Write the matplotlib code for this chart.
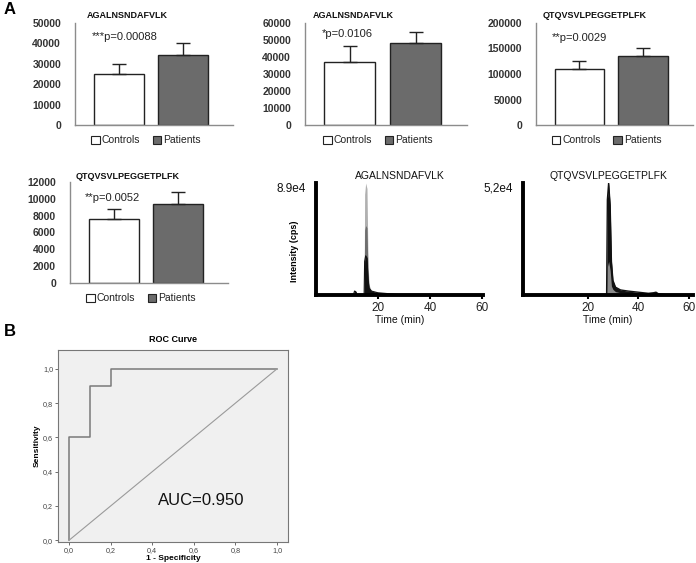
import matplotlib
matplotlib.use("Agg")
import matplotlib.pyplot as plt
from matplotlib.patches import Rectangle
import numpy as np

plt.rcParams['font.family'] = ['Liberation Sans', 'DejaVu Sans']

W, H = 696, 563

# ---------------- data ----------------
groups = ["Controls", "Patients"]
bar_titles = ["AGALNSNDAFVLK", "AGALNSNDAFVLK", "QTQVSVLPEGGETPLFK", "QTQVSVLPEGGETPLFK"]
bar_pvals = ["***p=0.00088", "*p=0.0106", "**p=0.0029", "**p=0.0052"]
bar_means = [[25000, 34500], [37000, 48000], [110000, 135000], [7600, 9400]]
bar_errs = [[5000, 5500], [9500, 7000], [15000, 16000], [1200, 1400]]
bar_ymax = [50000, 60000, 200000, 12000]
bar_ystep = [10000, 10000, 50000, 2000]

# chromatogram 1 (AGALNSNDAFVLK), intensity relative to 8.9e4
c1_title = "AGALNSNDAFVLK"
c1_max = "8.9e4"
c1_t = [0, 10.6, 11.0, 11.5, 12.0, 14.7, 14.9, 15.3, 15.8, 16.2, 16.6, 17.5, 20, 25, 30, 61]
c1_light = [0, 0, 0.035, 0.03, 0, 0, 0.9, 1.0, 0.95, 0.3, 0.09, 0.04, 0.02, 0.01, 0.0, 0]
c1_mid = [0, 0, 0.035, 0.03, 0, 0, 0.58, 0.62, 0.6, 0.2, 0.07, 0.035, 0.02, 0.01, 0.0, 0]
c1_dark = [0, 0, 0.035, 0.03, 0, 0, 0.3, 0.35, 0.33, 0.14, 0.06, 0.035, 0.02, 0.01, 0.0, 0]
# chromatogram 2 (QTQVSVLPEGGETPLFK), intensity relative to 5.2e4
c2_title = "QTQVSVLPEGGETPLFK"
c2_max = "5,2e4"
c2_t = [0, 27.5, 27.8, 28.3, 28.9, 29.4, 30, 31, 33, 36, 40, 44, 46, 47, 48, 52, 62]
c2_dark = [0, 0, 0.85, 1.0, 0.8, 0.3, 0.13, 0.07, 0.045, 0.035, 0.025, 0.015, 0.02, 0.025, 0.01, 0.0, 0]
c2_gray = [0, 0, 0.25, 0.3, 0.22, 0.08, 0.05, 0.03, 0.02, 0.015, 0.01, 0.008, 0.01, 0.012, 0.005, 0.0, 0]
time_ticks = [20, 40, 60]

# ROC
roc_fpr = [0.0, 0.0, 0.1, 0.1, 0.2, 0.2, 1.0]
roc_tpr = [0.0, 0.6, 0.6, 0.9, 0.9, 1.0, 1.0]
roc_ticks = [0.0, 0.2, 0.4, 0.6, 0.8, 1.0]
auc_label = "AUC=0.950"

fig = plt.figure(figsize=(W / 100, H / 100), dpi=100)


def px(l, t, r, b):
    return [l / W, 1 - b / H, (r - l) / W, (b - t) / H]


bar_boxes = [(75, 23, 233, 125), (305, 23, 467, 125), (536, 23, 693, 125), (70, 182, 228, 283)]
title_x = [0.33, 0.30, 0.376, 0.364]
pval_xy = [(0.108, 0.86), (0.105, 0.89), (0.10, 0.85), (0.095, 0.84)]

for i in range(4):
    ax = fig.add_axes(px(*bar_boxes[i]))
    x = np.arange(2)
    ax.bar(x, bar_means[i], width=0.78, color=["white", "#6b6b6b"],
           edgecolor="#222222", linewidth=1.0, zorder=2)
    ax.errorbar(x, bar_means[i], yerr=[[0, 0], bar_errs[i]], fmt="none",
                ecolor="#222222", elinewidth=1.0, capsize=5, capthick=1.0, zorder=3)
    ax.set_xlim(-0.68, 1.78)
    ax.set_ylim(0, bar_ymax[i])
    ax.set_yticks(np.arange(0, bar_ymax[i] + 1, bar_ystep[i]))
    ax.set_xticks([])
    for s in ["top", "right"]:
        ax.spines[s].set_visible(False)
    for s in ["left", "bottom"]:
        ax.spines[s].set_color("#8c8c8c")
        ax.spines[s].set_linewidth(1.0)
    ax.tick_params(axis="y", length=0, pad=10, labelsize=7.5, labelcolor="#333333")
    for lab in ax.get_yticklabels():
        lab.set_fontweight("bold")
    ax.text(title_x[i], 1.03 if i < 3 else 1.01, bar_titles[i], transform=ax.transAxes,
            ha="center", va="bottom", fontsize=6.5, fontweight="bold", color="#111111")
    ax.text(pval_xy[i][0], pval_xy[i][1], bar_pvals[i], transform=ax.transAxes,
            ha="left", va="center", fontsize=8, color="#222222")
    handles = [Rectangle((0, 0), 1, 1, facecolor="white", edgecolor="#222222", lw=0.8),
               Rectangle((0, 0), 1, 1, facecolor="#6b6b6b", edgecolor="#222222", lw=0.8)]
    ax.legend(handles, groups, loc="upper center", bbox_to_anchor=(0.45, -0.01), ncol=2,
              frameon=False, handlelength=0.8, handleheight=0.8, handletextpad=0.2,
              columnspacing=1.2, fontsize=7.5, labelcolor="#222222")

# chromatograms
chrom_boxes = [(316, 183, 483, 295), (523, 183, 693, 295)]
chrom_xlim = [(-3.8, 60.4), (-5.5, 61.6)]
for j in range(2):
    ax = fig.add_axes(px(*chrom_boxes[j]))
    if j == 0:
        ax.fill_between(c1_t, c1_light, color="#b0b0b0", lw=0)
        ax.fill_between(c1_t, c1_mid, color="#6e6e6e", lw=0)
        ax.fill_between(c1_t, c1_dark, color="#111111", lw=0)
        ax.plot(c1_t, c1_dark, color="#111111", lw=0.8)
        title, mx = c1_title, c1_max
    else:
        ax.fill_between(c2_t, c2_dark, color="#111111", lw=0)
        ax.plot(c2_t, c2_dark, color="#111111", lw=1.0)
        ax.fill_between(c2_t, c2_gray, color="#8a8a8a", lw=0)
        title, mx = c2_title, c2_max
    ax.set_xlim(*chrom_xlim[j])
    ax.set_ylim(0, 1.0)
    ax.set_xticks(time_ticks)
    ax.set_yticks([])
    for s in ["top", "right"]:
        ax.spines[s].set_visible(False)
    for s in ["left", "bottom"]:
        ax.spines[s].set_color("black")
        ax.spines[s].set_linewidth(2.8)
    ax.tick_params(axis="x", length=3, width=1.5, pad=2, labelsize=8.5, labelcolor="#222222")
    ax.set_xlabel("Time (min)", fontsize=7.5, labelpad=1, color="#111111")
    ax.text(0.5, 1.02, title, transform=ax.transAxes, ha="center", va="bottom",
            fontsize=7.5, color="#111111")
    ax.text(-0.06, 0.95, mx, transform=ax.transAxes, ha="right", va="center",
            fontsize=8.5, color="#111111")
    if j == 0:
        ax.set_ylabel("Intensity (cps)", fontsize=6.5, fontweight="bold")
        ax.yaxis.set_label_coords(-0.1, 0.39)

# ROC
ax = fig.add_axes(px(58, 350, 288, 542))
ax.set_facecolor("#f0f0f0")
ax.plot(roc_fpr, roc_tpr, color="#7a7a7a", lw=1.1)
ax.plot([0, 1], [0, 1], color="#9a9a9a", lw=0.8)
ax.set_xlim(-0.053, 1.053)
ax.set_ylim(-0.01, 1.11)
ax.set_xticks(roc_ticks)
ax.set_yticks(roc_ticks)
ax.set_xticklabels([f"{v:.1f}".replace(".", ",") for v in roc_ticks])
ax.set_yticklabels([f"{v:.1f}".replace(".", ",") for v in roc_ticks])
ax.tick_params(length=2.5, width=0.6, color="#555555", labelsize=5.2, labelcolor="#444444", pad=1)
for s in ax.spines.values():
    s.set_color("#777777")
    s.set_linewidth(0.8)
ax.set_xlabel("1 - Specificity", fontsize=6, fontweight="bold", labelpad=1)
ax.set_ylabel("Sensitivity", fontsize=6, fontweight="bold", labelpad=2)
ax.set_title("ROC Curve", fontsize=6.5, fontweight="bold", pad=6)
ax.text(0.43, 0.234, auc_label, fontsize=12, ha="left", va="center", color="#111111")

fig.text(4 / W, 1 - 10 / H, "A", fontsize=12, fontweight="bold", va="center", ha="left")
fig.text(4 / W, 1 - 332 / H, "B", fontsize=12, fontweight="bold", va="center", ha="left")

fig.savefig("out.png", dpi=100)
